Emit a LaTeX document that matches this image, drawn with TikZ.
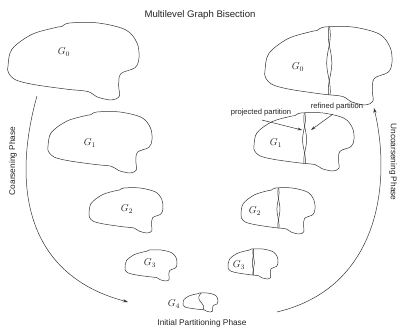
\documentclass[tikz,border=0pt]{standalone}
\usepackage{fontspec}
\setsansfont{Liberation Sans}
\usepackage{tikz}
\usetikzlibrary{arrows.meta}
\definecolor{inkgray}{HTML}{333333}
\definecolor{textgray}{HTML}{222222}

\newcommand{\graphblob}[4]{%
  \begin{scope}[shift={(#1,#2)}, xscale=#3, yscale=#4]
    \draw[outline] plot[smooth cycle, tension=0.55] coordinates {
      (0,0.56) (0.03,0.34) (0.18,0.15) (0.36,0.06) (0.41,0.045) (0.47,0.0)
      (0.69,0.0) (0.9,0.09) (0.985,0.26) (1.0,0.45) (0.97,0.58) (0.86,0.66)
      (0.845,0.82) (0.85,0.95) (0.79,1.0) (0.68,0.96) (0.61,0.89) (0.45,0.86)
      (0.2,0.8) (0.06,0.74) (0.005,0.65)};
  \end{scope}}
\newcommand{\splitblob}[4]{%
  \graphblob{#1}{#2}{#3}{#4}
  \begin{scope}[shift={(#1,#2)}, xscale=#3, yscale=#4]
    \draw[outline] plot[domain=0:0.87, smooth, samples=30] ({0.5+0.014*sin(500*\x+40)}, \x);
    \draw[outline] plot[domain=0:0.87, smooth, samples=30] ({0.512-0.014*sin(500*\x+40)}, \x);
  \end{scope}}

\begin{document}
\begin{tikzpicture}[
  x=1pt, y=-1pt,
  outline/.style={draw=inkgray, line width=0.5pt},
  gname/.style={inner sep=1pt, text=textgray},
  phase/.style={text=textgray, font=\sffamily\fontsize{8.3}{10}\selectfont},
  note/.style={text=textgray, font=\sffamily\fontsize{7.6}{9}\selectfont},
  bigarc/.style={draw=inkgray, line width=0.5pt, -{Stealth[length=5pt, width=3.2pt]}},
  pointer/.style={draw=inkgray, line width=0.5pt, -{Stealth[length=4.5pt, width=2.8pt]}}
]
  \useasboundingbox (0,0) rectangle (408,328);

  \node[text=textgray, font=\sffamily\fontsize{9.6}{11}\selectfont] (title) at (200,15) {Multilevel Graph Bisection};

  \graphblob{8}{23}{131}{77}
  \graphblob{48}{112}{104}{61}
  \graphblob{89}{188}{74}{45}
  \graphblob{125}{250}{52}{31}

  \splitblob{265}{27}{127}{78}
  \splitblob{254}{113}{100}{58}
  \splitblob{241}{188}{74}{46}
  \splitblob{228}{249}{50}{30}

  \graphblob{183}{293}{35}{19}
  \begin{scope}[shift={(183,293)}, xscale=35, yscale=19]
    \draw[outline] plot[domain=0:0.88, smooth, samples=20] ({0.52-0.07*sin(360*\x)}, \x);
  \end{scope}

  \node[gname] (lg0) at (64,52) {$G_0$};
  \node[gname] (lg1) at (90,143) {$G_1$};
  \node[gname] (lg2) at (127,209) {$G_2$};
  \node[gname] (lg3) at (150,263) {$G_3$};
  \node[gname] (g4) at (174,304) {$G_4$};
  \node[gname] (rg0) at (298,67) {$G_0$};
  \node[gname] (rg1) at (276,143) {$G_1$};
  \node[gname] (rg2) at (255,211) {$G_2$};
  \node[gname] (rg3) at (239,265) {$G_3$};

  \node[phase, rotate=90] (coarse) at (13,161) {Coarsening Phase};
  \node[phase, rotate=-90] (uncoarse) at (393,162) {Uncoarsening Phase};
  \node[phase] (initial) at (202,323) {Initial Partitioning Phase};

  \node[note] (projected) at (261,113) {projected partition};
  \node[note] (refined) at (337,107) {refined partition};
  \coordinate (projtip) at (302,130);
  \coordinate (reftip) at (311,130);
  \draw[pointer] ([xshift=1pt]projected.south) -- (projtip);
  \draw[pointer] ([xshift=-4pt]refined.south) -- (reftip);

  \coordinate (coarsestart) at (37,96);
  \coordinate (coarseend) at (128,302);
  \coordinate (uncoarsestart) at (277,312);
  \coordinate (uncoarseend) at (374,108);
  \draw[bigarc] (coarsestart) .. controls (12,185) and (25,275) .. (coarseend);
  \draw[bigarc] (uncoarsestart) .. controls (378,288) and (392,185) .. (uncoarseend);
\end{tikzpicture}
\end{document}
